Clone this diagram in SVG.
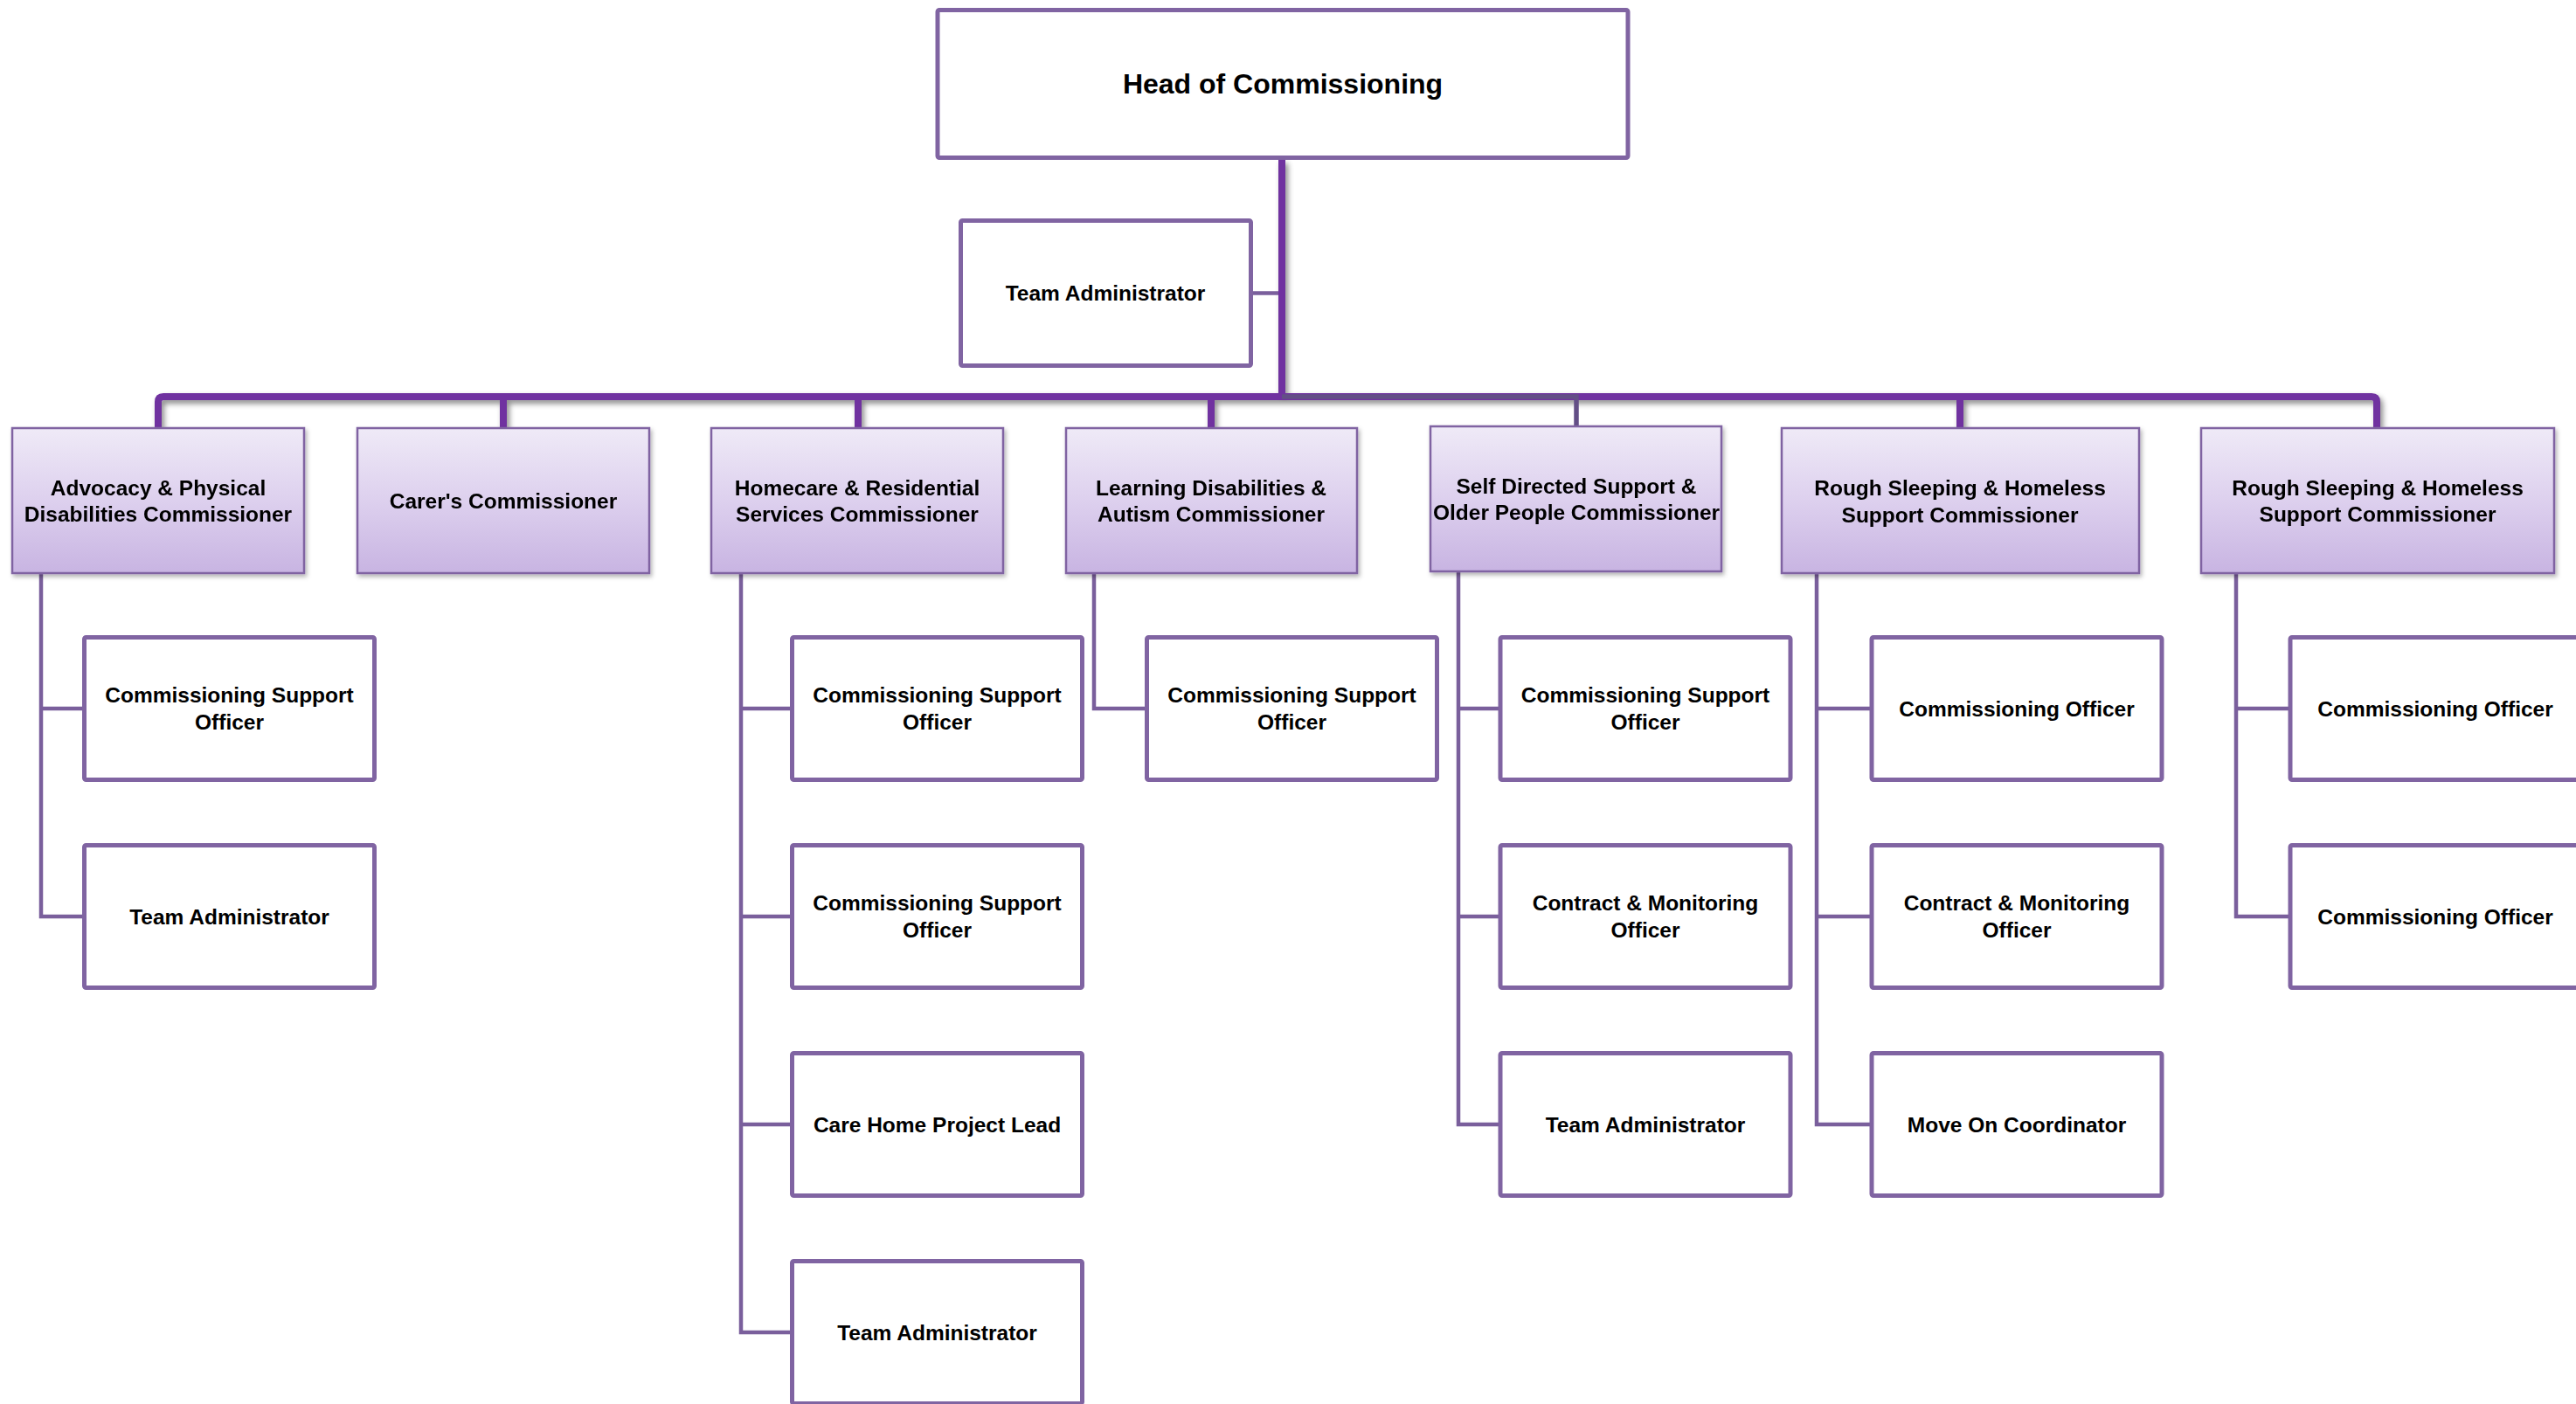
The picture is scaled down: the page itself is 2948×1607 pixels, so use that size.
<svg xmlns="http://www.w3.org/2000/svg" width="2948" height="1607" viewBox="0 0 2948 1607">
<defs>
<linearGradient id="cg" x1="0" y1="0" x2="0" y2="1">
<stop offset="0" stop-color="#EFEAF7"/>
<stop offset="0.5" stop-color="#DDD0EE"/>
<stop offset="1" stop-color="#C8B4E2"/>
</linearGradient>
<filter id="sh" x="-5%" y="-20%" width="110%" height="160%">
<feDropShadow dx="3" dy="4" stdDeviation="3" flood-color="#000" flood-opacity="0.45"/>
</filter>
<filter id="bsh" x="-5%" y="-5%" width="115%" height="115%">
<feDropShadow dx="2" dy="3" stdDeviation="2.5" flood-color="#000" flood-opacity="0.3"/>
</filter>
</defs>
<style>
text{font-family:"Liberation Sans",Arial,sans-serif;font-weight:bold;fill:#000;text-anchor:middle}
.t{font-size:24.5px}
.h{font-size:32px}
.box{fill:#fff;stroke:#8064A2;stroke-width:5}
.com{fill:url(#cg);stroke:#8064A2;stroke-width:2.5}
.bus{fill:none;stroke:#7030A0;stroke-width:8;stroke-linejoin:round}
.lnk{fill:none;stroke:#7A5F9C;stroke-width:4.5;stroke-linejoin:miter}
.gr{fill:none;stroke:#634E86;stroke-width:5.5}
</style>
<rect width="2948" height="1607" fill="#fff"/>

<g id="connectors">
<g filter="url(#sh)">
<path class="bus" d="M181,489 V460 Q181,454 187,454 H2714 Q2720,454 2720,460 V489"/>
<path class="bus" d="M1467,183 V454" stroke-width="9"/>
<path class="bus" d="M576,454 V489 M982,454 V489 M1386,454 V489 M2243,454 V489"/>
</g>
<path class="gr" d="M1467,454 H1804 V487"/>
<path class="lnk" d="M1434,335.5 H1463"/>
<path class="lnk" d="M47,657 V1049 H96 M47,811 H96"/>
<path class="lnk" d="M848,657 V1525 H906 M848,811 H906 M848,1049 H906 M848,1287 H906"/>
<path class="lnk" d="M1252,657 V811 H1312"/>
<path class="lnk" d="M1669,655 V1287 H1717 M1669,811 H1717 M1669,1049 H1717"/>
<path class="lnk" d="M2079,657 V1287 H2142 M2079,811 H2142 M2079,1049 H2142"/>
<path class="lnk" d="M2559,657 V1049 H2621 M2559,811 H2621"/>
</g>

<g id="head">
<rect class="box" x="1073" y="11.5" width="790" height="169" rx="2"/>
<text class="h" x="1468" y="107">Head of Commissioning</text>
</g>
<g id="top-admin">
<rect class="box" x="1099.5" y="252.5" width="332" height="166" rx="2"/>
<text class="t" x="1265" y="344">Team Administrator</text>
</g>

<g id="c-advocacy" filter="url(#bsh)">
<rect class="com" x="14" y="490" width="334" height="166"/>
<text class="t" x="181" y="567">Advocacy &amp; Physical</text>
<text class="t" x="181" y="597">Disabilities Commissioner</text>
</g>
<g id="c-carers" filter="url(#bsh)">
<rect class="com" x="409" y="490" width="334" height="166"/>
<text class="t" x="576" y="582">Carer's Commissioner</text>
</g>
<g id="c-homecare" filter="url(#bsh)">
<rect class="com" x="814" y="490" width="334" height="166"/>
<text class="t" x="981" y="567">Homecare &amp; Residential</text>
<text class="t" x="981" y="597">Services Commissioner</text>
</g>
<g id="c-learning" filter="url(#bsh)">
<rect class="com" x="1220" y="490" width="333" height="166"/>
<text class="t" x="1386" y="567">Learning Disabilities &amp;</text>
<text class="t" x="1386" y="597">Autism Commissioner</text>
</g>
<g id="c-selfdirected" filter="url(#bsh)">
<rect class="com" x="1637" y="488" width="333" height="166"/>
<text class="t" x="1804" y="565">Self Directed Support &amp;</text>
<text class="t" x="1804" y="595">Older People Commissioner</text>
</g>
<g id="c-rough1" filter="url(#bsh)">
<rect class="com" x="2039" y="490" width="409" height="166"/>
<text class="t" x="2243" y="567">Rough Sleeping &amp; Homeless</text>
<text class="t" x="2243" y="598">Support Commissioner</text>
</g>
<g id="c-rough2" filter="url(#bsh)">
<rect class="com" x="2519" y="490" width="404" height="166"/>
<text class="t" x="2721" y="567">Rough Sleeping &amp; Homeless</text>
<text class="t" x="2721" y="597">Support Commissioner</text>
</g>

<g id="adv-1"><rect class="box" x="96.5" y="729.5" width="332" height="163" rx="2"/><text class="t" x="262.5" y="804">Commissioning Support</text><text class="t" x="262.5" y="835">Officer</text></g>
<g id="adv-2"><rect class="box" x="96.5" y="967.5" width="332" height="163" rx="2"/><text class="t" x="262.5" y="1057.5">Team Administrator</text></g>

<g id="home-1"><rect class="box" x="906.5" y="729.5" width="332" height="163" rx="2"/><text class="t" x="1072.5" y="804">Commissioning Support</text><text class="t" x="1072.5" y="835">Officer</text></g>
<g id="home-2"><rect class="box" x="906.5" y="967.5" width="332" height="163" rx="2"/><text class="t" x="1072.5" y="1042">Commissioning Support</text><text class="t" x="1072.5" y="1073">Officer</text></g>
<g id="home-3"><rect class="box" x="906.5" y="1205.5" width="332" height="163" rx="2"/><text class="t" x="1072.5" y="1295.5">Care Home Project Lead</text></g>
<g id="home-4"><rect class="box" x="906.5" y="1443.5" width="332" height="163" rx="2"/><text class="t" x="1072.5" y="1533.5">Team Administrator</text></g>

<g id="learn-1"><rect class="box" x="1312.5" y="729.5" width="332" height="163" rx="2"/><text class="t" x="1478.5" y="804">Commissioning Support</text><text class="t" x="1478.5" y="835">Officer</text></g>

<g id="self-1"><rect class="box" x="1717" y="729.5" width="332" height="163" rx="2"/><text class="t" x="1883" y="804">Commissioning Support</text><text class="t" x="1883" y="835">Officer</text></g>
<g id="self-2"><rect class="box" x="1717" y="967.5" width="332" height="163" rx="2"/><text class="t" x="1883" y="1042">Contract &amp; Monitoring</text><text class="t" x="1883" y="1073">Officer</text></g>
<g id="self-3"><rect class="box" x="1717" y="1205.5" width="332" height="163" rx="2"/><text class="t" x="1883" y="1295.5">Team Administrator</text></g>

<g id="rough1-1"><rect class="box" x="2142" y="729.5" width="332" height="163" rx="2"/><text class="t" x="2308" y="819.5">Commissioning Officer</text></g>
<g id="rough1-2"><rect class="box" x="2142" y="967.5" width="332" height="163" rx="2"/><text class="t" x="2308" y="1042">Contract &amp; Monitoring</text><text class="t" x="2308" y="1073">Officer</text></g>
<g id="rough1-3"><rect class="box" x="2142" y="1205.5" width="332" height="163" rx="2"/><text class="t" x="2308" y="1295.5">Move On Coordinator</text></g>

<g id="rough2-1"><rect class="box" x="2621" y="729.5" width="332" height="163" rx="2"/><text class="t" x="2787" y="819.5">Commissioning Officer</text></g>
<g id="rough2-2"><rect class="box" x="2621" y="967.5" width="332" height="163" rx="2"/><text class="t" x="2787" y="1057.5">Commissioning Officer</text></g>
</svg>
